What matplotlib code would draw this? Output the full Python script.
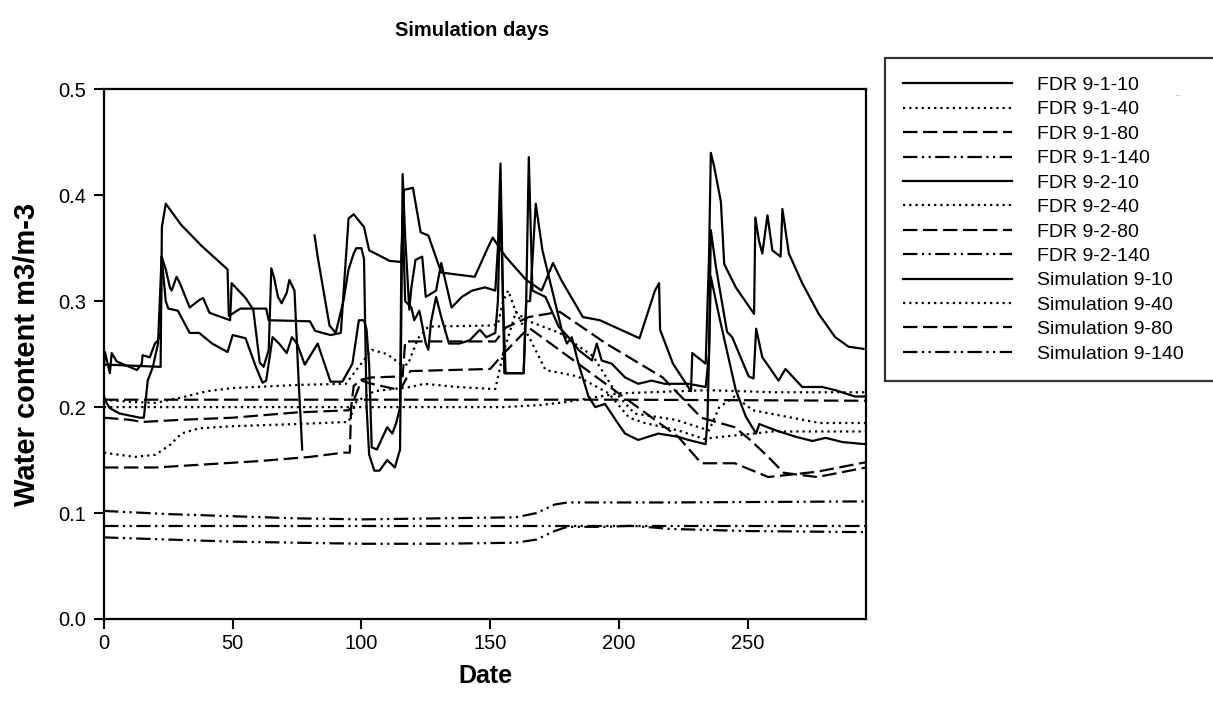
import numpy as np
import matplotlib
matplotlib.use("Agg")
import matplotlib.pyplot as plt

plt.rcParams['font.family'] = ['Liberation Sans', 'DejaVu Sans']

# day / water content pairs (nan = gap in record)
fdr_1_10_d = [0, 0.4, 2.3, 3, 5, 12.8, 14.7, 15, 17.8, 19.8, 21, 22, 22.4, 24, 25.6, 26.3, 28.2, 29.5, 33.3, 37, 38.5, 41, 49, 49.6, 55, 58, 60.5, 62, 64, 65, 66, 67.6, 69, 71, 72, 74, 75.6, 77, 79,
              81.8, 83, 87.6, 90, 93, 95, 97, 98, 100, 101, 102, 103, 105, 107, 110, 113, 115, 116, 117, 118.6, 119.4, 121, 123.6, 125, 129, 131, 135, 139, 143, 148, 152, 153, 154, 155, 155.5, 163, 164, 165,
              166.4, 171.5, 176.6, 180.4, 184.3, 189.5, 191.4, 193.3, 197.2, 202.4, 207.5, 212.7, 217.8, 222, 227, 233.7, 235, 235.7, 237.7, 242, 244, 250.4, 252.3, 253.3, 255.7, 258.3, 262, 264.7, 271.2, 279, 284, 291.7, 295.5]
fdr_1_10_v = [0.238, 0.252, 0.232, 0.251, 0.243, 0.235, 0.241, 0.249, 0.247, 0.26, 0.263, 0.27, 0.342, 0.33, 0.313, 0.31, 0.323, 0.317, 0.294, 0.301, 0.303, 0.289, 0.282, 0.317, 0.303, 0.292, 0.242, 0.238, 0.254, 0.331, 0.323, 0.304, 0.298, 0.308, 0.32, 0.31, 0.225, 0.16, np.nan,
              0.362, 0.342, 0.277, 0.27, 0.3, 0.33, 0.345, 0.35, 0.35, 0.34, 0.2, 0.155, 0.14, 0.14, 0.15, 0.143, 0.16, 0.42, 0.36, 0.292, 0.313, 0.339, 0.342, 0.304, 0.31, 0.336, 0.294, 0.304, 0.31, 0.313, 0.31, 0.35, 0.43, 0.3, 0.232, 0.232, 0.3, 0.436,
              0.31, 0.304, 0.276, 0.266, 0.254, 0.244, 0.26, 0.244, 0.241, 0.228, 0.222, 0.225, 0.222, 0.222, 0.222, 0.219, 0.25, 0.367, 0.332, 0.271, 0.266, 0.229, 0.227, 0.274, 0.247, 0.238, 0.225, 0.236, 0.219, 0.219, 0.216, 0.21, 0.21]

fdr_2_10_d = [0, 1, 2.3, 6, 14, 15.5, 17, 19, 21, 22.4, 24, 25, 28.7, 33.3, 37, 42, 48, 50, 55, 59, 61.6, 63, 65.5, 68, 71, 73, 75, 78, 83, 88, 92.6, 96.5, 99, 101, 102, 103, 104, 106, 110, 112, 113.5, 115, 115.5, 116, 117,
              119.4, 120.5, 122.5, 125, 126, 127, 129, 131, 134, 138, 142, 146, 148.5, 152, 153, 154, 155, 156, 163, 164, 165.5, 167.7, 170.3, 172.8, 177.9, 179.8, 181.7, 184.3, 188.2, 190.8, 194.6, 199.8, 202.4, 207.5,
              215.3, 223, 227, 233.7, 234.4, 235.7, 239, 245.4, 249.3, 253.3, 254.5, 261, 268.7, 275.2, 280.3, 286.8, 295.7]
fdr_2_10_v = [0.21, 0.204, 0.199, 0.194, 0.19, 0.19, 0.225, 0.238, 0.26, 0.342, 0.3, 0.293, 0.291, 0.27, 0.27, 0.26, 0.252, 0.268, 0.265, 0.238, 0.223, 0.225, 0.266, 0.26, 0.251, 0.266, 0.26, 0.24, 0.26, 0.224, 0.224, 0.241, 0.282, 0.282, 0.273, 0.24, 0.162, 0.16, 0.181, 0.175, 0.185, 0.2, 0.336, 0.38, 0.3,
              0.294, 0.282, 0.291, 0.26, 0.254, 0.28, 0.304, 0.285, 0.26, 0.26, 0.263, 0.273, 0.266, 0.27, 0.3, 0.4, 0.3, 0.232, 0.232, 0.3, 0.3, 0.392, 0.348, 0.323, 0.272, 0.26, 0.266, 0.241, 0.21, 0.2, 0.203, 0.184, 0.175, 0.169,
              0.175, 0.172, 0.169, 0.165, 0.188, 0.323, 0.285, 0.216, 0.191, 0.175, 0.184, 0.178, 0.172, 0.168, 0.171, 0.167, 0.165]

sim_10_d = [0, 2, 22, 22.5, 24, 30, 38, 48, 48.5, 53, 63, 64, 80, 82, 88, 92, 95, 97, 101, 103, 111, 115.5, 116.5, 120, 123, 126, 131, 144, 149, 151, 156, 164, 170, 174.4, 177.6, 186, 192.6, 208, 212, 214, 215.6, 216, 221, 228, 228.5,
            233.7, 235, 235.7, 237, 239.6, 240.9, 245.4, 252.5, 253, 254.4, 255.7, 257.7, 259.6, 262.8, 263.5, 266, 271.2, 277.6, 284, 289.2, 295]
sim_10_v = [0.24, 0.24, 0.238, 0.37, 0.392, 0.372, 0.352, 0.33, 0.286, 0.293, 0.293, 0.282, 0.281, 0.272, 0.268, 0.27, 0.378, 0.382, 0.37, 0.348, 0.338, 0.337, 0.405, 0.407, 0.365, 0.362, 0.327, 0.323, 0.35, 0.36, 0.342, 0.32, 0.31, 0.336, 0.32, 0.285, 0.282, 0.265, 0.295, 0.31, 0.317, 0.273, 0.241, 0.215, 0.251,
            0.241, 0.342, 0.44, 0.427, 0.394, 0.335, 0.313, 0.288, 0.379, 0.357, 0.345, 0.381, 0.348, 0.342, 0.387, 0.345, 0.317, 0.288, 0.266, 0.257, 0.255]

fdr_1_40_d = [0, 10, 20, 30, 40, 50, 76, 94, 98, 104, 110, 115, 118, 122, 126, 150, 153, 155, 157, 160, 167, 171.5, 184, 196, 204, 210, 223, 233, 240, 260, 296]
fdr_1_40_v = [0.207, 0.205, 0.204, 0.209, 0.215, 0.218, 0.221, 0.222, 0.235, 0.254, 0.25, 0.241, 0.24, 0.265, 0.276, 0.277, 0.278, 0.3, 0.31, 0.29, 0.257, 0.235, 0.229, 0.213, 0.19, 0.185, 0.178, 0.17, 0.172, 0.177, 0.177]

fdr_2_40_d = [0, 50, 100, 155, 170, 180, 200, 235, 260, 296]
fdr_2_40_v = [0.2, 0.2, 0.2, 0.2, 0.202, 0.205, 0.213, 0.216, 0.214, 0.214]

sim_40_d = [0, 12, 20, 26, 30, 37, 50, 75, 95, 98, 105, 119, 124.5, 137, 152, 155, 160, 164, 177, 190, 199, 206, 222, 235, 239, 245, 252, 265, 278, 296]
sim_40_v = [0.157, 0.153, 0.155, 0.165, 0.175, 0.18, 0.182, 0.184, 0.186, 0.205, 0.215, 0.219, 0.222, 0.219, 0.217, 0.25, 0.29, 0.282, 0.27, 0.248, 0.213, 0.194, 0.188, 0.178, 0.2, 0.21, 0.197, 0.191, 0.185, 0.185]

fdr_1_80_d = [0, 10, 15, 30, 50, 75, 95, 96, 97, 100, 104, 116, 117, 152, 156, 165, 177, 195, 217, 232, 245, 251, 258, 264, 277, 296]
fdr_1_80_v = [0.19, 0.188, 0.186, 0.188, 0.19, 0.195, 0.197, 0.2, 0.22, 0.226, 0.228, 0.229, 0.262, 0.262, 0.275, 0.285, 0.29, 0.26, 0.228, 0.19, 0.181, 0.169, 0.153, 0.138, 0.134, 0.143]

fdr_2_80_d = [0, 20, 40, 60, 80, 93, 95.5, 96, 100, 104, 115, 119, 150, 155, 165, 223, 232, 245, 258, 277, 296]
fdr_2_80_v = [0.143, 0.143, 0.146, 0.149, 0.153, 0.157, 0.157, 0.2, 0.225, 0.222, 0.216, 0.234, 0.236, 0.25, 0.275, 0.172, 0.147, 0.147, 0.134, 0.139, 0.148]

sim_80_d = [0, 100, 200, 296]
sim_80_v = [0.207, 0.207, 0.207, 0.206]

fdr_1_140_d = [0, 25, 50, 75, 100, 130, 160, 168, 175, 180, 220, 296]
fdr_1_140_v = [0.102, 0.099, 0.097, 0.095, 0.094, 0.095, 0.096, 0.1, 0.108, 0.11, 0.11, 0.111]

fdr_2_140_d = [0, 25, 50, 75, 100, 130, 160, 168, 175, 180, 195, 205, 220, 250, 296]
fdr_2_140_v = [0.077, 0.075, 0.073, 0.072, 0.071, 0.071, 0.072, 0.075, 0.083, 0.087, 0.087, 0.088, 0.085, 0.083, 0.082]

sim_140_d = [0, 100, 200, 296]
sim_140_v = [0.088, 0.088, 0.088, 0.088]

solid = '-'
dotted = (0, (1, 1.8))
dashed = (0, (6.5, 2.5))
dashdot = (0, (6.5, 2, 1, 2, 1, 2))

series = [
    ("FDR 9-1-10", fdr_1_10_d, fdr_1_10_v, solid),
    ("FDR 9-1-40", fdr_1_40_d, fdr_1_40_v, dotted),
    ("FDR 9-1-80", fdr_1_80_d, fdr_1_80_v, dashed),
    ("FDR 9-1-140", fdr_1_140_d, fdr_1_140_v, dashdot),
    ("FDR 9-2-10", fdr_2_10_d, fdr_2_10_v, solid),
    ("FDR 9-2-40", fdr_2_40_d, fdr_2_40_v, dotted),
    ("FDR 9-2-80", fdr_2_80_d, fdr_2_80_v, dashed),
    ("FDR 9-2-140", fdr_2_140_d, fdr_2_140_v, dashdot),
    ("Simulation 9-10", sim_10_d, sim_10_v, solid),
    ("Simulation 9-40", sim_40_d, sim_40_v, dotted),
    ("Simulation 9-80", sim_80_d, sim_80_v, dashed),
    ("Simulation 9-140", sim_140_d, sim_140_v, dashdot),
]

fig = plt.figure(figsize=(12.13, 7.03), dpi=100)
ax = fig.add_axes([0.0857, 0.1195, 0.6283, 0.7535])

for name, d, v, ls in series:
    ax.plot(d, v, color='black', linestyle=ls, linewidth=1.6, label=name)

ax.set_xlim(0, 296)
ax.set_ylim(0, 0.5)
ax.set_xticks([0, 50, 100, 150, 200, 250])
ax.set_yticks([0.0, 0.1, 0.2, 0.3, 0.4, 0.5])
ax.set_yticklabels(["0.0", "0.1", "0.2", "0.3", "0.4", "0.5"])
ax.tick_params(labelsize=14.5, length=7, width=1.5, direction='out')
ax.tick_params(axis='y', pad=6)
ax.tick_params(axis='x', pad=4)
for s in ax.spines.values():
    s.set_linewidth(1.6)

# axis titles placed in figure coords
fig.text(0.4, 0.0384, "Date", fontsize=18, fontweight='bold', ha='center', va='center')
fig.text(0.0225, 0.4964, "Water content m3/m-3", fontsize=21, fontweight='bold',
         rotation=90, ha='center', va='center')
fig.text(0.389, 0.957, "Simulation days", fontsize=14.5, fontweight='bold', ha='center', va='center')

leg = fig.legend(loc='upper left', bbox_to_anchor=(0.7296, 0.9175, 0.30, 0.0), mode='expand',
                 fontsize=14, handlelength=5.6, handletextpad=1.25, labelspacing=0.35,
                 fancybox=False, edgecolor='black', borderaxespad=0, borderpad=0.95)
leg.get_frame().set_linewidth(1.6)
fig.text(1177 / 1213, 1 - 96 / 703, "-", fontsize=12, ha='center', va='center')

fig.savefig("out.png", dpi=100)
